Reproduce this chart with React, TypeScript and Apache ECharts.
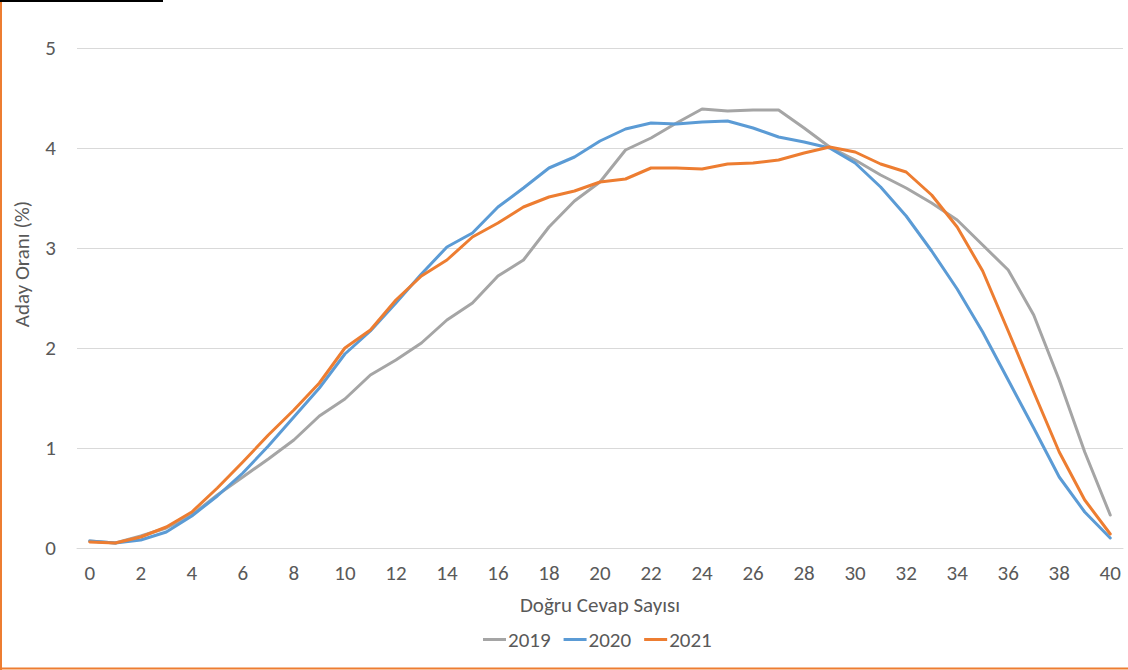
import React, { useEffect, useRef } from "react";
import * as echarts from "echarts";

const categories: string[] = Array.from({ length: 41 }, (_, i) => String(i));

const s2019: number[] = [
  0.07, 0.05, 0.12, 0.2, 0.33, 0.53, 0.71, 0.89, 1.08, 1.32,
  1.49, 1.73, 1.88, 2.05, 2.28, 2.45, 2.72, 2.88, 3.21, 3.47,
  3.66, 3.98, 4.1, 4.25, 4.39, 4.37, 4.38, 4.38, 4.2, 4.01,
  3.88, 3.73, 3.6, 3.45, 3.28, 3.03, 2.78, 2.33, 1.68, 0.96,
  0.33,
];

const s2020: number[] = [
  0.07, 0.05, 0.08, 0.16, 0.32, 0.52, 0.75, 1.02, 1.31, 1.6,
  1.94, 2.17, 2.45, 2.74, 3.01, 3.15, 3.41, 3.6, 3.8, 3.91,
  4.07, 4.19, 4.25, 4.24, 4.26, 4.27, 4.2, 4.11, 4.06, 4.0,
  3.85, 3.61, 3.32, 2.97, 2.59, 2.16, 1.68, 1.2, 0.71, 0.36,
  0.1,
];

const s2021: number[] = [
  0.06, 0.05, 0.11, 0.21, 0.36, 0.6, 0.86, 1.13, 1.38, 1.65,
  2.0, 2.18, 2.48, 2.72, 2.88, 3.11, 3.25, 3.41, 3.51, 3.57,
  3.66, 3.69, 3.8, 3.8, 3.79, 3.84, 3.85, 3.88, 3.95, 4.01,
  3.96, 3.84, 3.76, 3.53, 3.21, 2.77, 2.17, 1.56, 0.96, 0.48,
  0.14,
];

const seriesNames: string[] = ["2019", "2020", "2021"];
const seriesColors: string[] = ["#A5A5A5", "#5B9BD5", "#ED7D31"];

const FONT = "Carlito, Calibri, 'Open Sans', sans-serif";
const TEXT = "#595959";

export default function App() {
  const ref = useRef<HTMLDivElement>(null);

  useEffect(() => {
    document.body.style.margin = "0";
    if (!ref.current) return;
    const chart = echarts.init(ref.current, undefined, { renderer: "svg" });
    const data = [s2019, s2020, s2021];
    chart.setOption({
      animation: false,
      backgroundColor: "#ffffff",
      textStyle: { fontFamily: FONT, color: TEXT },
      grid: { left: 77, right: 5, top: 48, bottom: 122, containLabel: false },
      legend: {
        bottom: 15,
        left: 478,
        icon: "rect",
        itemWidth: 23,
        itemHeight: 3,
        itemGap: 13,
        textStyle: { fontFamily: FONT, fontSize: 21, color: TEXT, padding: [0, 0, 0, -3] },
        data: seriesNames,
      },
      xAxis: {
        type: "category",
        data: categories,
        boundaryGap: true,
        name: "Doğru Cevap Sayısı",
        nameLocation: "middle",
        nameGap: 46,
        nameTextStyle: { fontFamily: FONT, fontSize: 21, color: TEXT },
        axisLine: { show: true, lineStyle: { color: "#D9D9D9", width: 1 } },
        axisTick: { show: false },
        axisLabel: { interval: 1, margin: 14, fontSize: 21, color: TEXT, fontFamily: FONT },
      },
      yAxis: {
        type: "value",
        min: 0,
        max: 5,
        interval: 1,
        axisLine: { show: false },
        axisTick: { show: false },
        axisLabel: { margin: 21, fontSize: 21, color: TEXT, fontFamily: FONT },
        splitLine: { lineStyle: { color: "#D9D9D9", width: 1 } },
      },
      graphic: [
        {
          type: "text",
          x: 22,
          y: 264,
          rotation: Math.PI / 2,
          style: {
            text: "Aday Oranı (%)",
            fontFamily: FONT,
            fontSize: 21,
            fill: TEXT,
            align: "center",
            verticalAlign: "middle",
          },
        },
        { type: "line", shape: { x1: 1, y1: 0, x2: 1, y2: 670 }, style: { stroke: "#ED7D31", lineWidth: 2 } },
        { type: "line", shape: { x1: 0, y1: 668.5, x2: 1128, y2: 668.5 }, style: { stroke: "#ED7D31", lineWidth: 2 } },
        { type: "line", shape: { x1: 0, y1: 1, x2: 163, y2: 1 }, style: { stroke: "#000000", lineWidth: 2 } },
      ],
      series: seriesNames.map((name, i) => ({
        name,
        type: "line",
        data: data[i],
        symbol: "none",
        showSymbol: false,
        smooth: false,
        lineStyle: { color: seriesColors[i], width: 3, cap: "round", join: "round" },
        itemStyle: { color: seriesColors[i] },
      })),
    });
    return () => chart.dispose();
  }, []);

  return <div ref={ref} style={{ width: 1128, height: 670 }} />;
}
